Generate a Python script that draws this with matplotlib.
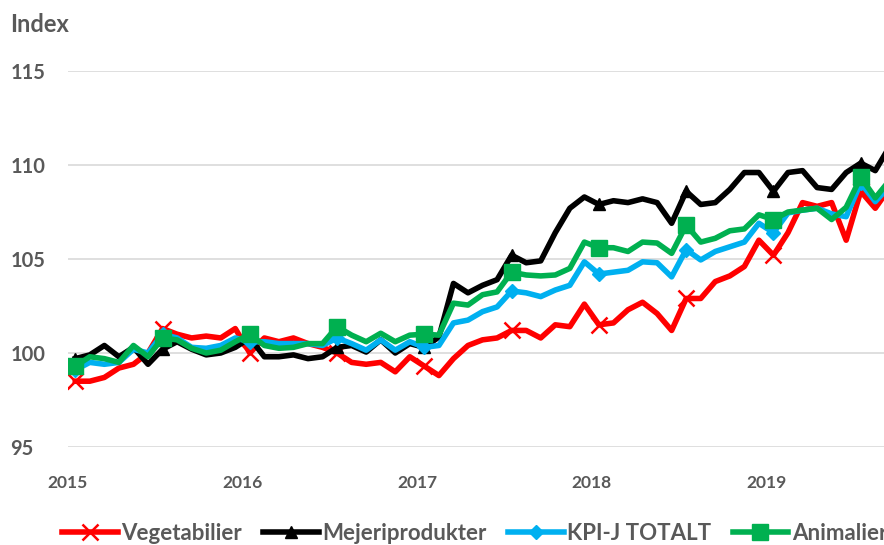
import matplotlib.pyplot as plt
import numpy as np

# monthly index values, Jan 2015 .. Sep 2019
years = ['2015', '2016', '2017', '2018', '2019']

vegetabilier = [98.5, 98.5, 98.7, 99.2, 99.4, 100.0, 101.3, 101.0, 100.8, 100.9, 100.8, 101.3,
                100.0, 100.8, 100.6, 100.8, 100.5, 100.3, 100.0, 99.5, 99.4, 99.5, 99.0, 99.8,
                99.3, 98.8, 99.7, 100.4, 100.7, 100.8, 101.2, 101.2, 100.8, 101.5, 101.4, 102.6,
                101.5, 101.6, 102.3, 102.7, 102.1, 101.2, 102.9, 102.9, 103.8, 104.1, 104.6, 106.0,
                105.2, 106.4, 108.0, 107.8, 108.0, 106.0, 108.6, 107.7, 108.8]
mejeri = [99.7, 99.9, 100.4, 99.8, 100.3, 99.4, 100.2, 100.6, 100.2, 99.9, 100.0, 100.3,
          100.8, 99.8, 99.8, 99.9, 99.7, 99.8, 100.3, 100.4, 100.05, 100.7, 100.0, 100.5,
          100.3, 100.85, 103.7, 103.2, 103.6, 103.9, 105.2, 104.8, 104.9, 106.4, 107.7, 108.3,
          107.9, 108.1, 108.0, 108.2, 108.0, 106.9, 108.6, 107.9, 108.0, 108.7, 109.6, 109.6,
          108.6, 109.6, 109.7, 108.8, 108.7, 109.6, 110.1, 109.7, 111.0]
kpi_j = [99.1, 99.5, 99.4, 99.5, 100.2, 100.0, 101.0, 100.8, 100.3, 100.25, 100.4, 100.8,
         100.6, 100.6, 100.5, 100.5, 100.5, 100.4, 100.8, 100.5, 100.15, 100.7, 100.15, 100.6,
         100.3, 100.4, 101.6, 101.75, 102.2, 102.45, 103.3, 103.2, 103.0, 103.35, 103.6, 104.85,
         104.2, 104.3, 104.4, 104.85, 104.8, 104.05, 105.5, 104.95, 105.4, 105.65, 105.9, 106.9,
         106.4, 107.45, 107.6, 107.7, 107.4, 107.25, 109.05, 108.05, 108.9]
animalier = [99.3, 99.8, 99.7, 99.5, 100.4, 99.8, 100.8, 100.7, 100.25, 100.0, 100.15, 100.6,
             101.0, 100.4, 100.25, 100.3, 100.5, 100.5, 101.4, 100.95, 100.6, 101.05, 100.6, 100.95,
             101.0, 100.95, 102.65, 102.55, 103.1, 103.25, 104.3, 104.15, 104.1, 104.15, 104.5, 105.9,
             105.6, 105.6, 105.4, 105.9, 105.85, 105.3, 106.8, 105.9, 106.1, 106.5, 106.6, 107.35,
             107.1, 107.5, 107.6, 107.7, 107.1, 107.75, 109.35, 108.25, 109.2]

t = np.arange(len(vegetabilier)) + 0.5  # mid-month positions

grey = '#595959'
fam = ['Lato', 'DejaVu Sans']
fig = plt.figure(figsize=(8.84, 5.45), dpi=100)
ax = fig.add_axes([68/884, 1 - 447/545, 1 - 68/884, (447 - 71)/545])

every = slice(0, None, 6)
lw = 4
ax.plot(t, vegetabilier, color='#FF0000', lw=lw, marker='x', ms=11, mew=1.8,
        markevery=every, label='Vegetabilier')
ax.plot(t, mejeri, color='#000000', lw=lw, marker='^', ms=9,
        markevery=every, label='Mejeriprodukter')
ax.plot(t, kpi_j, color='#00B0F0', lw=lw, marker='D', ms=7.5,
        markevery=every, label='KPI-J TOTALT')
ax.plot(t, animalier, color='#00B050', lw=lw, marker='s', ms=11,
        markevery=every, label='Animalier')

ax.set_xlim(0, 56.1)
ax.set_ylim(95, 115)
ax.set_yticks([95, 100, 105, 110, 115])
ax.set_xticks(np.arange(len(years)) * 12)
ax.set_xticklabels(years)
ax.grid(axis='y', color='#D9D9D9', lw=1.2)
ax.set_axisbelow(True)
for s in ax.spines.values():
    s.set_visible(False)

ax.tick_params(axis='y', length=0, pad=41.5, labelcolor=grey)
ax.tick_params(axis='x', length=0, pad=20, labelcolor=grey)
for lab in ax.get_yticklabels():
    lab.set_horizontalalignment('left')
    lab.set_fontfamily(fam)
    lab.set_fontweight('bold')
    lab.set_fontsize(14.5)
for lab in ax.get_xticklabels():
    lab.set_fontfamily(fam)
    lab.set_fontweight('bold')
    lab.set_fontsize(12.5)

fig.text(10/884, 1 - 25/545, 'Index', ha='left', va='center', color=grey,
         fontsize=17, fontweight='bold', family=fam)

fig.legend(loc='center left', bbox_to_anchor=(62/884, 1 - 533/545), ncol=4,
           frameon=False, handlelength=2.5, handletextpad=0.17, columnspacing=0.95,
           borderaxespad=0, borderpad=0,
           prop={'family': fam, 'weight': 'bold', 'size': 16},
           labelcolor=grey)

fig.savefig('out.png', dpi=100)
